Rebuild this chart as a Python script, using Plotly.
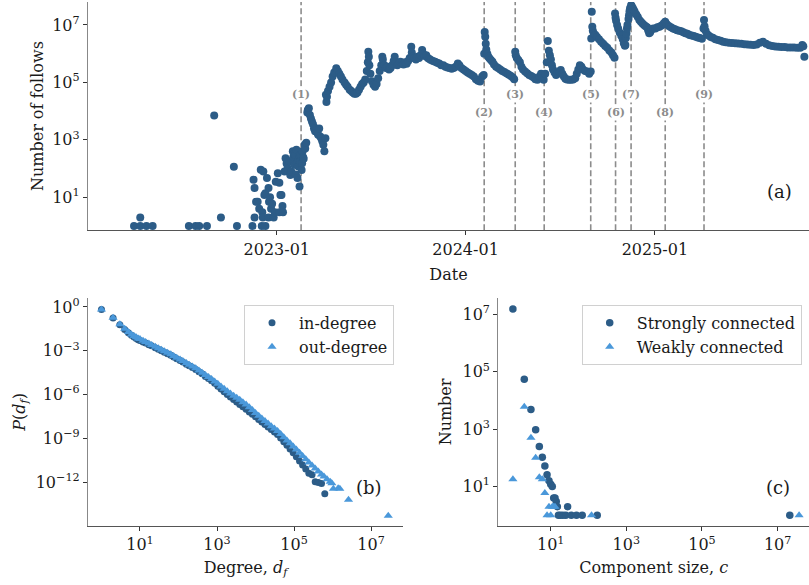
import plotly.graph_objects as go

# ---------------- data: panel (a) daily follows ----------------
follow_dates = [
    "2022-03-31", "2022-04-12", "2022-04-12", "2022-04-24", "2022-05-06", "2022-07-15", "2022-07-28",
    "2022-08-04", "2022-08-19", "2022-09-02", "2022-09-15", "2022-10-10", "2022-10-16", "2022-11-15",
    "2022-11-17", "2022-11-19", "2022-11-19", "2022-11-22", "2022-11-25", "2022-11-28", "2022-12-01",
    "2022-12-03", "2022-12-04", "2022-12-05", "2022-12-06", "2022-12-08", "2022-12-10", "2022-12-10",
    "2022-12-13", "2022-12-16", "2022-12-16", "2022-12-17", "2022-12-19", "2022-12-21", "2022-12-23",
    "2022-12-26", "2022-12-28", "2022-12-30", "2023-01-03", "2023-01-06", "2023-01-06", "2023-01-08",
    "2023-01-10", "2023-01-12", "2023-01-13", "2023-01-16", "2023-01-18", "2023-01-20", "2023-01-22",
    "2023-01-25", "2023-01-27", "2023-01-29", "2023-02-01", "2023-02-02", "2023-02-03", "2023-02-04",
    "2023-02-06", "2023-02-07", "2023-02-08", "2023-02-09", "2023-02-10", "2023-02-11", "2023-02-12",
    "2023-02-13", "2023-02-14", "2023-02-15", "2023-02-16", "2023-02-18", "2023-02-19", "2023-02-20",
    "2023-02-21", "2023-02-22", "2023-02-24", "2023-02-25", "2023-02-27", "2023-03-01", "2023-03-02",
    "2023-03-04", "2023-03-06", "2023-03-08", "2023-03-10", "2023-03-12", "2023-03-14", "2023-03-16",
    "2023-03-18", "2023-03-20", "2023-03-22", "2023-03-24", "2023-03-26", "2023-03-28", "2023-03-30",
    "2023-04-01", "2023-04-03", "2023-04-05",
    "2023-04-06", "2023-04-07", "2023-04-08", "2023-04-10", "2023-04-13", "2023-04-16", "2023-04-19",
    "2023-04-22", "2023-04-26", "2023-04-29", "2023-05-02", "2023-05-05", "2023-05-08", "2023-05-12",
    "2023-05-15", "2023-05-18", "2023-05-22", "2023-05-25", "2023-05-28", "2023-05-31", "2023-06-03",
    "2023-06-06", "2023-06-09", "2023-06-12", "2023-06-15", "2023-06-18", "2023-06-21", "2023-06-24",
    "2023-06-26", "2023-06-27", "2023-06-28", "2023-06-29", "2023-07-01", "2023-07-04", "2023-07-07",
    "2023-07-10", "2023-07-13", "2023-07-16", "2023-07-19", "2023-07-22", "2023-07-24", "2023-07-25",
    "2023-07-28", "2023-07-31", "2023-08-03", "2023-08-06", "2023-08-09", "2023-08-12", "2023-08-15",
    "2023-08-17", "2023-08-19", "2023-08-22", "2023-08-25", "2023-08-28", "2023-08-31", "2023-09-03",
    "2023-09-06", "2023-09-09", "2023-09-12", "2023-09-15", "2023-09-18", "2023-09-19", "2023-09-21",
    "2023-09-24", "2023-09-27", "2023-09-30", "2023-10-03", "2023-10-06", "2023-10-09", "2023-10-11",
    "2023-10-14", "2023-10-17", "2023-10-20", "2023-10-23", "2023-10-26", "2023-10-30", "2023-11-03",
    "2023-11-07", "2023-11-11", "2023-11-15", "2023-11-19", "2023-11-23", "2023-11-27", "2023-12-01",
    "2023-12-05", "2023-12-09", "2023-12-13", "2023-12-17", "2023-12-20", "2023-12-24", "2023-12-28",
    "2024-01-01", "2024-01-05", "2024-01-09", "2024-01-13", "2024-01-17", "2024-01-21", "2024-01-25",
    "2024-01-29", "2024-02-02", "2024-02-05", "2024-02-06", "2024-02-07", "2024-02-08", "2024-02-09",
    "2024-02-10", "2024-02-12", "2024-02-14", "2024-02-16", "2024-02-19", "2024-02-22", "2024-02-25",
    "2024-02-29", "2024-03-04", "2024-03-08", "2024-03-12", "2024-03-16", "2024-03-20", "2024-03-24",
    "2024-03-28", "2024-04-01", "2024-04-04", "2024-04-06", "2024-04-07", "2024-04-09", "2024-04-12",
    "2024-04-15", "2024-04-18", "2024-04-21", "2024-04-25", "2024-04-29", "2024-05-03", "2024-05-07",
    "2024-05-11", "2024-05-15", "2024-05-19", "2024-05-23", "2024-05-26", "2024-05-29", "2024-05-31",
    "2024-06-03", "2024-06-06", "2024-06-08", "2024-06-10", "2024-06-12", "2024-06-14", "2024-06-16",
    "2024-06-18", "2024-06-21", "2024-06-24", "2024-06-27", "2024-06-30", "2024-07-03", "2024-07-06",
    "2024-07-09", "2024-07-12", "2024-07-15", "2024-07-19", "2024-07-23", "2024-07-27", "2024-07-31",
    "2024-08-03", "2024-08-06", "2024-08-09", "2024-08-12", "2024-08-15", "2024-08-19", "2024-08-23",
    "2024-08-27", "2024-08-30", "2024-08-31", "2024-09-01", "2024-09-02", "2024-09-03", "2024-09-05",
    "2024-09-08", "2024-09-11", "2024-09-15", "2024-09-19", "2024-09-23", "2024-09-27", "2024-10-01",
    "2024-10-05", "2024-10-09", "2024-10-12", "2024-10-15", "2024-10-16", "2024-10-17", "2024-10-18",
    "2024-10-20", "2024-10-22", "2024-10-25", "2024-10-28", "2024-10-31", "2024-11-02", "2024-11-04",
    "2024-11-05", "2024-11-06", "2024-11-07", "2024-11-08", "2024-11-09", "2024-11-11", "2024-11-12",
    "2024-11-13", "2024-11-14", "2024-11-16", "2024-11-17", "2024-11-19", "2024-11-21", "2024-11-23",
    "2024-11-26", "2024-11-29", "2024-12-02", "2024-12-05", "2024-12-08", "2024-12-11", "2024-12-14",
    "2024-12-17", "2024-12-19", "2024-12-21", "2024-12-23", "2024-12-26", "2024-12-29",
    "2025-01-02", "2025-01-06", "2025-01-10", "2025-01-14", "2025-01-18", "2025-01-21", "2025-01-24",
    "2025-01-28", "2025-02-01", "2025-02-05", "2025-02-09", "2025-02-13", "2025-02-17", "2025-02-21",
    "2025-02-25", "2025-03-01", "2025-03-05", "2025-03-09", "2025-03-13", "2025-03-17", "2025-03-21",
    "2025-03-25", "2025-03-29", "2025-04-02", "2025-04-05", "2025-04-06", "2025-04-07", "2025-04-09",
    "2025-04-12", "2025-04-15", "2025-04-19", "2025-04-23", "2025-04-28", "2025-05-03", "2025-05-08",
    "2025-05-13", "2025-05-18", "2025-05-24", "2025-05-30", "2025-06-05", "2025-06-11", "2025-06-17",
    "2025-06-23", "2025-06-29", "2025-07-05", "2025-07-11", "2025-07-17", "2025-07-23", "2025-07-29",
    "2025-08-04", "2025-08-10", "2025-08-16", "2025-08-22", "2025-08-28", "2025-09-03", "2025-09-09",
    "2025-09-15", "2025-09-21", "2025-09-27", "2025-10-03", "2025-10-09", "2025-10-13", "2025-10-15",
    "2025-10-17",
]
follow_counts = [
    1, 1, 2, 1, 1, 1, 1,
    1, 1, 7000, 2, 115, 1, 1,
    41, 2, 21, 7, 7, 4, 91,
    1, 3, 2, 80, 12, 1, 14,
    47, 21, 2, 7, 10, 4, 6,
    2, 3, 35, 69, 32, 3, 12,
    12, 5, 3, 80, 230, 150, 105,
    180, 60, 80, 400, 250, 320, 135,
    300, 62, 450, 150, 47, 120, 200,
    280, 24, 180, 300, 90, 155, 400,
    250, 220, 680, 500, 800, 9000, 11000,
    12600, 7400, 5600, 4400, 3500, 2500, 2000,
    2500, 1800, 1500, 2500, 1300, 1150, 900,
    680, 400, 1150,
    37000, 21000, 32000, 50000, 71000, 100000, 160000,
    220000, 310000, 250000, 200000, 160000, 126000, 100000,
    83000, 71000, 56000, 50000, 45000, 40000, 40000,
    45000, 56000, 71000, 89000, 100000, 126000, 250000,
    500000, 1170000, 790000, 400000, 200000, 110000, 83000,
    71000, 89000, 140000, 250000, 400000, 790000, 630000,
    400000, 320000, 350000, 280000, 320000, 400000, 560000,
    790000, 500000, 400000, 450000, 520000, 480000, 420000,
    500000, 450000, 560000, 710000, 1740000, 1100000, 790000,
    690000, 630000, 790000, 710000, 890000, 1350000, 1000000,
    830000, 890000, 710000, 660000, 600000, 560000, 520000,
    480000, 460000, 400000, 400000, 350000, 330000, 320000,
    300000, 320000, 350000, 460000, 400000, 320000, 280000,
    250000, 220000, 200000, 180000, 160000, 130000, 115000,
    107000, 160000, 180000, 1000000, 5750000, 3900000, 2200000,
    1400000, 1000000, 790000, 690000, 600000, 520000, 420000,
    350000, 320000, 280000, 250000, 230000, 210000, 190000,
    170000, 150000, 130000, 1170000, 890000, 710000, 600000,
    500000, 350000, 280000, 240000, 210000, 180000, 166000,
    150000, 130000, 123000, 160000, 200000, 140000, 123000,
    200000, 500000, 2750000, 1260000, 890000, 630000, 400000,
    280000, 220000, 180000, 200000, 240000, 270000, 200000,
    160000, 135000, 126000, 123000, 123000, 126000, 140000,
    200000, 280000, 400000, 350000, 280000, 250000, 240000,
    200000, 240000, 3400000, 29000000, 8700000, 6300000, 5100000,
    4500000, 3800000, 3200000, 2630000, 2200000, 1860000, 1600000,
    1300000, 1100000, 890000, 720000, 25000000, 18000000, 14000000,
    10000000, 7600000, 5500000, 4200000, 3200000, 2300000, 1900000,
    2000000, 3500000, 5100000, 7600000, 10000000, 16000000, 22000000,
    30000000, 38000000, 49000000, 46000000, 40000000, 34000000, 29000000,
    23000000, 19000000, 15000000, 13000000, 11200000, 10000000, 9000000,
    8300000, 6500000, 5200000, 5600000, 7100000, 7600000,
    7600000, 8300000, 8700000, 9500000, 11200000, 12900000, 10500000,
    9200000, 8300000, 7600000, 7100000, 6600000, 6300000, 6000000,
    5600000, 5200000, 5000000, 4500000, 4300000, 4100000, 3900000,
    3700000, 3500000, 3300000, 7600000, 14800000, 9000000, 6300000,
    4800000, 4300000, 3800000, 3600000, 3200000, 3000000, 2800000,
    2600000, 2500000, 2400000, 2350000, 2300000, 2250000, 2200000,
    2150000, 2100000, 2050000, 2000000, 2100000, 2400000, 2600000,
    2200000, 1950000, 1850000, 1780000, 1740000, 1700000, 1700000,
    1660000, 1660000, 1640000, 1620000, 1600000, 2000000, 1800000,
    790000,
]

event_dates = ["2023-02-17", "2024-02-06", "2024-04-06", "2024-06-01", "2024-08-30",
               "2024-10-17", "2024-11-16", "2025-01-21", "2025-04-06"]
event_labels = ["(1)", "(2)", "(3)", "(4)", "(5)", "(6)", "(7)", "(8)", "(9)"]
year_ticks = ["2023-01-01", "2024-01-01", "2025-01-01"]
year_labels = ["2023-01", "2024-01", "2025-01"]

# ---------------- data: panel (b) degree distributions ----------------
in_degree = [1, 2, 3, 4, 5, 6, 7, 8, 9, 10, 12, 14, 17, 20, 25, 30, 36, 43, 52, 63,
             75, 90, 110, 130, 160, 190, 230, 280, 340, 410, 500, 600, 720, 870, 1050, 1270,
             1530, 1850, 2230, 2700, 3250, 3900, 4700, 5700, 6900, 8300, 10000, 12100, 14600,
             17600, 21200, 25600, 31000, 37300, 45000, 54300, 65500, 79000, 95400, 115000,
             139000, 167000, 202000, 243000, 294000, 355000, 428000, 517000, 630000]
in_prob = [0.66, 0.17, 0.060, 0.028, 0.017, 0.0112, 0.0085, 0.0068, 0.0056, 0.0049,
           0.0040, 0.0033, 0.0026, 0.0022, 0.0016, 0.00126, 0.0010, 7.9e-4, 6.2e-4, 4.8e-4,
           3.7e-4, 2.8e-4, 2.1e-4, 1.66e-4, 1.2e-4, 9.3e-5, 7.1e-5, 5.2e-5, 3.6e-5, 2.6e-5,
           1.74e-5, 1.26e-5, 8.9e-6, 5.8e-6, 3.7e-6, 2.4e-6, 1.55e-6, 1.0e-6, 6.8e-7, 4.6e-7,
           3.1e-7, 2.1e-7, 1.45e-7, 9.6e-8, 6.4e-8, 4.4e-8, 2.95e-8, 1.95e-8, 1.32e-8, 8.7e-9,
           5.9e-9, 4.0e-9, 2.7e-9, 1.82e-9, 1.05e-9, 5.9e-10, 3.3e-10, 1.82e-10, 1.02e-10, 5.5e-11,
           2.8e-11, 1.48e-11, 7.8e-12, 4.0e-12, 3.2e-12, 1.07e-12, 9.5e-13, 8.0e-13, 1.6e-13]
out_degree = [1, 2, 3, 4, 5, 6, 7, 8, 9, 10, 12, 14, 17, 20, 25, 30, 36, 43, 52, 63,
              75, 90, 110, 130, 160, 190, 230, 280, 340, 410, 500, 600, 720, 870, 1050, 1270,
              1530, 1850, 2230, 2700, 3250, 3900, 4700, 5700, 6900, 8300, 10000, 12100, 14600,
              17600, 21200, 25600, 31000, 37300, 45000, 54300, 65500, 79000, 95400, 115000,
              139000, 167000, 202000, 243000, 294000, 355000, 428000, 517000, 600000, 720000,
              870000, 960000, 1050000, 1400000, 1550000, 2600000, 28000000]
out_prob = [0.66, 0.18, 0.065, 0.032, 0.019, 0.0126, 0.010, 0.0083, 0.0069, 0.0062,
            0.0048, 0.0040, 0.0031, 0.0025, 0.00186, 0.00148, 0.00117, 9.3e-4, 7.2e-4, 5.6e-4,
            4.4e-4, 3.3e-4, 2.45e-4, 1.95e-4, 1.41e-4, 1.1e-4, 8.3e-5, 6.2e-5, 4.4e-5, 3.1e-5,
            2.2e-5, 1.58e-5, 1.15e-5, 7.8e-6, 5.4e-6, 3.55e-6, 2.45e-6, 1.66e-6, 1.17e-6, 8.3e-7,
            5.9e-7, 4.3e-7, 3.0e-7, 2.1e-7, 1.32e-7, 8.5e-8, 5.5e-8, 3.5e-8, 2.24e-8, 1.51e-8,
            1.02e-8, 6.8e-9, 4.6e-9, 3.1e-9, 1.95e-9, 1.17e-9, 7.2e-10, 4.5e-10, 2.75e-10, 1.7e-10,
            1.02e-10, 6.2e-11, 3.7e-11, 2.24e-11, 1.38e-11, 8.5e-12, 5.4e-12, 3.3e-12, 2.4e-12, 1.58e-12,
            1.05e-12, 8.3e-13, 3.5e-13, 3.8e-13, 3.5e-13, 6.3e-14, 5.0e-15]

# ---------------- data: panel (c) component sizes ----------------
scc_size = [1, 2, 3, 4, 5, 6, 7, 8, 9, 10, 11, 12, 13, 14, 15, 16, 18, 21, 25, 28, 35, 48, 68, 170, 21000000]
scc_count = [15500000, 55000, 4800, 950, 250, 105, 52, 26, 16, 12, 10, 4, 4, 3, 2, 1, 1, 1, 1, 2, 1, 1, 1, 1, 1]
wcc_size = [1, 2, 3, 4, 5, 6, 7, 8, 9, 10, 11, 12, 13, 120, 37000000]
wcc_count = [18, 6000, 500, 100, 21, 18, 6, 1, 2, 1, 2, 2, 2, 1, 1]

# ---------------- style ----------------
DARK = "#2c5c87"
LIGHT = "#4a98da"
FONT = "DejaVu Serif"
TXT = "#1a1a1a"

def sup(e):
    s = str(e).replace("-", "\u2212")
    return f"10<sup>{s}</sup>"

fig = go.Figure()

fig.add_trace(go.Scatter(x=follow_dates, y=follow_counts, mode="markers",
                         marker=dict(color=DARK, size=8, line=dict(width=0)),
                         showlegend=False, xaxis="x", yaxis="y", cliponaxis=True))

fig.add_trace(go.Scatter(x=in_degree, y=in_prob, mode="markers", name="in-degree",
                         marker=dict(color=DARK, size=7, symbol="circle", line=dict(width=0)),
                         xaxis="x2", yaxis="y2", legend="legend"))
fig.add_trace(go.Scatter(x=out_degree, y=out_prob, mode="markers", name="out-degree",
                         marker=dict(color=LIGHT, size=8, symbol="triangle-up", line=dict(width=0)),
                         xaxis="x2", yaxis="y2", legend="legend"))

fig.add_trace(go.Scatter(x=scc_size, y=scc_count, mode="markers", name="Strongly connected",
                         marker=dict(color=DARK, size=7.5, symbol="circle", line=dict(width=0)),
                         xaxis="x3", yaxis="y3", legend="legend2"))
fig.add_trace(go.Scatter(x=wcc_size, y=wcc_count, mode="markers", name="Weakly connected",
                         marker=dict(color=LIGHT, size=8, symbol="triangle-up", line=dict(width=0)),
                         xaxis="x3", yaxis="y3", legend="legend2"))

# event lines and labels
for i, (d, lab) in enumerate(zip(event_dates, event_labels)):
    fig.add_shape(type="line", xref="x", yref="y domain", x0=d, x1=d, y0=0, y1=1,
                  line=dict(color="#8c8c8c", width=1.6, dash="6px,3px"), layer="below")
    fig.add_annotation(x=d, xref="x", yref="y domain", y=0.596 if i % 2 == 0 else 0.515,
                       text=f"<b>{lab}</b>", showarrow=False, bgcolor="white", borderpad=1,
                       xanchor="center", yanchor="middle",
                       font=dict(family=FONT, size=11, color="#8c8c8c"))

panel_labels = [("(a)", 779 / 809, 1 - 190 / 585), ("(b)", 369 / 809, 1 - 487 / 585), ("(c)", 778 / 809, 1 - 487 / 585)]
for t, px, py in panel_labels:
    fig.add_annotation(text=t, x=px, y=py, xref="paper", yref="paper", showarrow=False,
                       xanchor="center", yanchor="middle",
                       font=dict(family=FONT, size=18, color=TXT))

axis_common = dict(showline=True, linecolor="#555555", linewidth=1.3, ticks="outside", ticklen=4,
                   tickwidth=1, tickcolor="#333333", showgrid=False, zeroline=False,
                   tickfont=dict(family=FONT, size=16, color=TXT), mirror=False)

fig.update_layout(
    width=809, height=585, margin=dict(l=0, r=0, t=0, b=0),
    paper_bgcolor="white", plot_bgcolor="white",
    font=dict(family=FONT, size=16, color=TXT),
    xaxis=dict(axis_common, domain=[88 / 809, 1.0], anchor="y", type="date",
               range=["2022-01-01", "2025-10-26"], tickvals=year_ticks, ticktext=year_labels,
               title=dict(text="Date", standoff=11, font=dict(family=FONT, size=16, color=TXT))),
    yaxis=dict(axis_common, domain=[1 - 229 / 585, 1.0], anchor="x", type="log",
               range=[-0.145, 7.80], tickvals=[1e1, 1e3, 1e5, 1e7], ticktext=[sup(k) for k in (1, 3, 5, 7)],
               linecolor="#888888",
               title=dict(text="Number of follows", standoff=4, font=dict(family=FONT, size=16, color=TXT))),
    xaxis2=dict(axis_common, domain=[88 / 809, 403 / 809], anchor="y2", type="log",
                range=[-0.35, 7.83], tickvals=[1e1, 1e3, 1e5, 1e7], ticktext=[sup(k) for k in (1, 3, 5, 7)],
                title=dict(text="Degree, <i>d</i><sub><i>f</i></sub>", standoff=8,
                           font=dict(family=FONT, size=16, color=TXT))),
    yaxis2=dict(axis_common, domain=[1 - 525.7 / 585, 1 - 297 / 585], anchor="x2", type="log",
                range=[-15.0, 0.61], tickvals=[1, 1e-3, 1e-6, 1e-9, 1e-12],
                ticktext=[sup(k) for k in (0, -3, -6, -9, -12)], linecolor="#888888",
                title=dict(text="<i>P</i>(<i>d</i><sub><i>f</i></sub>)", standoff=6,
                           font=dict(family=FONT, size=16, color=TXT))),
    xaxis3=dict(axis_common, domain=[498.3 / 809, 1.0], anchor="y3", type="log",
                range=[-0.386, 7.83], tickvals=[1e1, 1e3, 1e5, 1e7], ticktext=[sup(k) for k in (1, 3, 5, 7)],
                title=dict(text="Component size, <i>c</i>", standoff=8,
                           font=dict(family=FONT, size=16, color=TXT))),
    yaxis3=dict(axis_common, domain=[1 - 525.7 / 585, 1 - 297 / 585], anchor="x3", type="log",
                range=[-0.37, 7.57], tickvals=[1e1, 1e3, 1e5, 1e7], ticktext=[sup(k) for k in (1, 3, 5, 7)],
                linecolor="#888888",
                title=dict(text="Number", standoff=6, font=dict(family=FONT, size=16, color=TXT))),
    legend=dict(x=244 / 809, y=1 - 304 / 585, xanchor="left", yanchor="top",
                bgcolor="rgba(255,255,255,0.8)", bordercolor="#d0d0d0", borderwidth=1,
                font=dict(family=FONT, size=16, color=TXT), itemwidth=44, tracegroupgap=0),
    legend2=dict(x=581.7 / 809, y=1 - 304 / 585, xanchor="left", yanchor="top",
                 bgcolor="rgba(255,255,255,0.8)", bordercolor="#d0d0d0", borderwidth=1,
                 font=dict(family=FONT, size=16, color=TXT), itemwidth=44, tracegroupgap=0),
)

fig.write_html("out.html")
